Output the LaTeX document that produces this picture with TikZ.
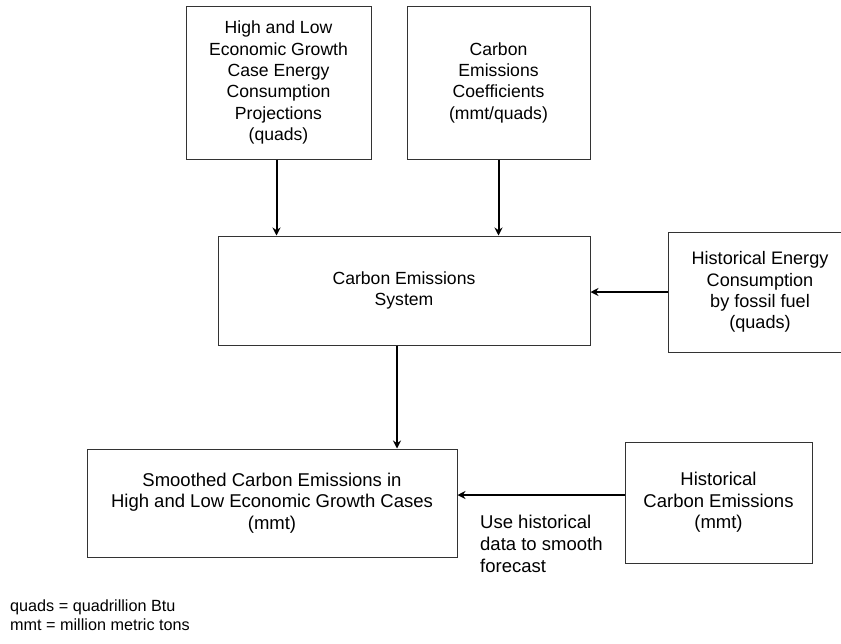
\documentclass[tikz,border=0pt]{standalone}
\usepackage{fontspec}
\setmainfont{Liberation Sans}
\usetikzlibrary{arrows.meta,calc}
\begin{document}
\begin{tikzpicture}[x=1pt,y=-1pt,
  box/.style={draw=black!80, line width=1pt, rectangle, align=center, inner sep=0pt,
    font=\fontsize{17.6}{21.3}\selectfont},
  bigbox/.style={box, font=\fontsize{18.5}{21.6}\selectfont},
  arr/.style={draw=black, line width=2pt, -{Stealth[length=8pt,width=8pt]}},
  note/.style={align=left, inner sep=0pt, font=\fontsize{18.5}{21.8}\selectfont},
  legend/.style={align=left, inner sep=0pt, font=\fontsize{16.2}{18.5}\selectfont}]
\useasboundingbox (0,0) rectangle (841,643);
\node[box, minimum width=185pt, minimum height=153pt] (A) at (278.5,82.5)
  {High and Low\\Economic Growth\\Case Energy\\Consumption\\Projections\\(quads)};
\node[box, minimum width=183pt, minimum height=153pt] (B) at (498.5,82.5)
  {Carbon\\Emissions\\Coefficients\\(mmt/quads)};
\node[box, minimum width=372pt, minimum height=109pt] (C) at (404,290.5)
  {Carbon Emissions\\System};
\node[box, font=\fontsize{18.1}{21.3}\selectfont, minimum width=184pt, minimum height=120pt] (D) at (760,292)
  {Historical Energy\\Consumption\\by fossil fuel\\(quads)};
\node[bigbox, minimum width=370pt, minimum height=108pt] (E) at (272,503)
  {Smoothed Carbon Emissions in\\High and Low Economic Growth Cases\\(mmt)};
\node[bigbox, minimum width=187pt, minimum height=121pt] (F) at (718.5,502.5)
  {Historical\\Carbon Emissions\\(mmt)};
\node[note, anchor=north west] (L) at (480,515)
  {Use historical\\data to smooth\\forecast};
\node[legend, anchor=north west] (G) at (10,600)
  {quads = quadrillion Btu\\mmt = million metric tons};
\draw[arr] ([xshift=-2pt]A.south) -- ([xshift=-2pt]A.south |- C.north);
\draw[arr] (B.south) -- (B.south |- C.north);
\draw[arr] (D.west) -- (D.west -| C.east);
\draw[arr] ([xshift=-7pt]C.south) -- ([xshift=-7pt]C.south |- E.north);
\draw[arr] ([yshift=7.5pt]F.west) -- ([yshift=7.5pt]F.west -| E.east);
\end{tikzpicture}
\end{document}
